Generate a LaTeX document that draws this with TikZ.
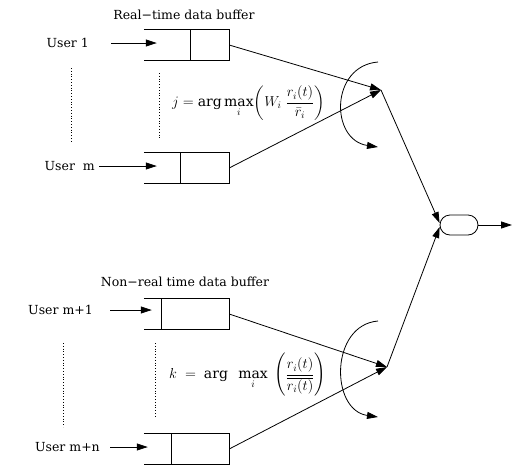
\documentclass[tikz,border=0pt]{standalone}
\usepackage{fontspec}
\setmainfont{DejaVu Serif}
\usepackage{amsmath}
\usetikzlibrary{arrows.meta}
\begin{document}
\begin{tikzpicture}[x=1pt,y=-1pt,
  lbl/.style={font=\fontsize{12.5}{14}\selectfont, inner sep=0pt},
  buf/.style={minimum width=85pt, minimum height=30pt, inner sep=0pt},
  conn/.style={line width=0.8pt, -{Triangle[length=11pt,width=7pt]}},
  dotl/.style={line width=0.8pt, dotted},
  oval/.style={draw, line width=0.8pt, rounded corners=10pt, minimum width=38pt, minimum height=20pt, inner sep=0pt},
  frm/.style={font=\fontsize{14}{16}\selectfont, inner sep=0pt, anchor=west}
]
\useasboundingbox (0,0) rectangle (515,467);

% ---------- top group ----------
\node[lbl] (t1) at (184,15) {Real−time data buffer};
\node[buf] (b1) at (186.5,45) {};
\node[buf] (bm) at (186.5,168) {};
\draw[line width=0.8pt] (b1.north west) -- (b1.north east) -- (b1.south east) -- (b1.south west)
  (190,30) -- (190,60);
\draw[line width=0.8pt] (bm.north west) -- (bm.north east) -- (bm.south east) -- (bm.south west)
  (180,153) -- (180,183);
\node[lbl, anchor=east] (u1) at (89,43) {User 1};
\node[lbl, anchor=east] (um) at (95,166) {User\ \ m};
\draw[conn] ([xshift=22pt]u1.east) -- ([xshift=13pt]b1.west |- u1.east);
\draw[conn] ([xshift=4pt]um.east) -- ([xshift=13pt]bm.west |- um.east);
\draw[dotl] (71,68) -- (71,142);
\draw[dotl] (159,73) -- (159,140);
\node[frm] (f1) at (172,103) {$j=\arg\max\limits_i\!\left(W_i\;\dfrac{r_i(t)}{\bar{r}_i}\right)$};
\coordinate (m1) at (381,90);
\draw[conn] (b1.east) -- (m1);
\draw[conn] (bm.east) -- (m1);
\coordinate (a1s) at (378,62);
\coordinate (a1e) at (378,147);
\draw[conn] (a1s) .. controls (330,66) and (330,140) .. (a1e);

% ---------- output ----------
\node[oval] (out) at (459,225) {};
\coordinate (o) at (512,225);
\draw[conn] (out.east) -- (o);

% ---------- bottom group ----------
\node[lbl] (t2) at (185,282) {Non−real time data buffer};
\node[buf] (b2) at (186.5,314) {};
\node[buf] (bn) at (186.5,449) {};
\draw[line width=0.8pt] (b2.north west) -- (b2.north east) -- (b2.south east) -- (b2.south west)
  (161,299) -- (161,329);
\draw[line width=0.8pt] (bn.north west) -- (bn.north east) -- (bn.south east) -- (bn.south west)
  (171,434) -- (171,464);
\node[lbl, anchor=east] (u2) at (93,310) {User m+1};
\node[lbl, anchor=east] (un) at (100,447) {User m+n};
\draw[conn] ([xshift=17pt]u2.east) -- ([xshift=8pt]b2.west |- u2.east);
\draw[conn] ([xshift=10pt]un.east) -- ([xshift=4pt]bn.west |- un.east);
\draw[dotl] (63,343) -- (63,427);
\draw[dotl] (155,343) -- (155,417);
\node[frm] (f2) at (169,375) {$k\;=\;\arg\;\;\max\limits_i\;\left(\dfrac{r_i(t)}{\overline{r_i(t)}}\right)$};
\coordinate (m2) at (387,367);
\draw[conn] (b2.east) -- (m2);
\draw[conn] (bn.east) -- (m2);
\coordinate (a2s) at (378,321);
\coordinate (a2e) at (378,417);
\draw[conn] (a2s) .. controls (330,325) and (330,410) .. (a2e);

\draw[conn] (m1) -- ([yshift=2pt]out.west);
\draw[conn] (m2) -- ([yshift=-2pt]out.west);
\end{tikzpicture}
\end{document}
